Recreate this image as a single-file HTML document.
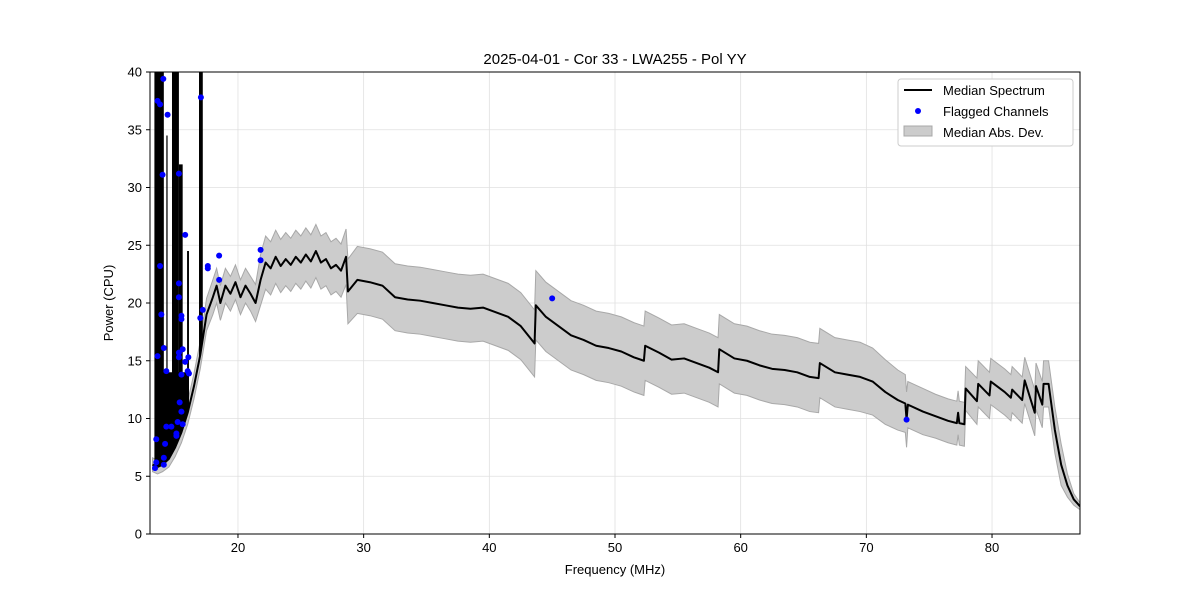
<!DOCTYPE html>
<html><head><meta charset="utf-8"><style>
html,body{margin:0;padding:0;background:#fff}
svg{display:block;font-family:"Liberation Sans","DejaVu Sans",sans-serif}
</style></head><body>
<svg id="chart" width="1200" height="600" viewBox="0 0 1200 600"></svg>
<script>
const freqs=[13.2,13.6,14,14.5,15,15.5,16,16.5,17,17.5,18,18.3,18.6,19,19.4,19.8,20.2,20.6,21,21.4,21.8,22.2,22.6,23,23.4,23.8,24.2,24.6,25,25.4,25.8,26.2,26.6,27,27.4,27.8,28.2,28.6,28.75,29.5,30.5,31.5,32.5,33.5,34.5,35.5,36.5,37.5,38.5,39.5,40.5,41.5,42.5,43.6,43.7,44.5,45.5,46.5,47.5,48.5,49.5,50.5,51.5,52.3,52.4,53.5,54.5,55.5,56.5,57.5,58.2,58.3,59.5,60.5,61.5,62.5,63.5,64.5,65.5,66.2,66.3,67.5,68.5,69.5,70.5,71.5,72.5,73.1,73.2,73.3,74.5,75.5,76.5,77.2,77.3,77.4,77.8,77.9,78.8,78.9,79.8,79.9,81,81.5,81.6,82.4,82.6,83.4,83.5,84,84.1,84.5,85,85.5,86,86.5,87];
const medians=[6,5.8,6,6.5,7.5,8.8,10.5,12.8,15.5,19,20.5,21.5,20,21.5,20.8,21.8,20.5,21.5,20.8,20,22,23.5,23,24,23.2,23.8,23.3,24,23.5,24.2,23.6,24.5,23.5,23.8,23,23.3,22.8,24,21,22,21.8,21.5,20.5,20.3,20.2,20,19.8,19.6,19.5,19.6,19.2,18.8,18,16.5,19.8,18.8,18,17.2,16.8,16.3,16.1,15.8,15.3,15,16.3,15.7,15.1,15.2,14.8,14.4,14,16,15.2,15,14.6,14.3,14.2,14,13.6,13.5,14.8,14,13.8,13.6,13.2,12.3,11.6,11.3,9.9,11.2,10.6,10.2,9.8,9.6,10.5,9.6,9.5,12.6,11.5,13,12,13.2,12.3,11.8,12.5,11.6,13.3,10.5,12.8,11.2,13,13,9,6,4.2,3,2.4];
const mads=[0.6,0.6,0.6,0.7,0.8,0.9,1,1.1,1.2,1.4,1.5,1.5,1.5,1.5,1.5,1.5,1.5,1.5,1.5,1.6,2.2,2.3,2.3,2.3,2.3,2.3,2.3,2.3,2.3,2.3,2.3,2.3,2.3,2.3,2.3,2.3,2.3,2.4,2.8,2.9,2.9,2.9,2.9,2.9,2.9,2.9,2.9,2.9,2.9,2.9,2.9,2.9,2.9,2.9,3,3,3,3,3,3,3,3,3,3,3,3,3,3,3,3,3,3,3,3,3,3,3,3,3,3,3,3,3,3,2.9,2.8,2.6,2.5,2.4,2,2,1.9,1.9,1.9,1.9,1.9,1.9,1.9,2,2,2,2,2,2,2,2,2,2,2,2,2,2,2,1.8,1,0.5,0.3,0.3,0.3];
const spikeStart=[13.4,13.35,14.3,14.75,15.3,15.95,16.9];
const spikeEnd=[16.1,14.1,14.4,15.3,15.6,16.1,17.2];
const spikeTop=[14,40,34.5,40,32,24.5,40];
const flagF=[13.4,13.5,13.5,13.6,13.6,13.8,13.8,13.9,14.0,14.06,14.1,14.1,14.1,14.2,14.3,14.3,14.4,14.7,15.1,15.1,15.2,15.3,15.3,15.3,15.3,15.3,15.36,15.5,15.5,15.5,15.5,15.6,15.6,15.8,15.8,16.0,16.05,16.1,17.0,17.05,17.2,17.6,17.6,18.5,18.5,21.8,21.8,45.0,73.2];
const flagV=[5.7,6.2,8.2,15.4,37.5,37.2,23.2,19.0,31.1,39.4,6.0,6.6,16.1,7.8,14.1,9.3,36.3,9.3,8.5,8.7,9.7,31.2,21.7,20.5,15.7,15.3,11.4,10.6,18.6,13.8,18.9,9.5,16.0,14.9,25.9,14.1,15.3,13.9,18.7,37.8,19.4,23.0,23.2,22.0,24.1,23.7,24.6,20.4,9.9];
const xTicks=[20,30,40,50,60,70,80];
const yTicks=[0,5,10,15,20,25,30,35,40];

const L=150,R=1080,T=72,B=534,X0=13,X1=87,Y0=0,Y1=40;
const sx=f=>L+(f-X0)/(X1-X0)*(R-L);
const sy=v=>B-(v-Y0)/(Y1-Y0)*(B-T);
function medAt(f){for(let i=1;i<freqs.length;i++){if(f<=freqs[i]){const t=(f-freqs[i-1])/(freqs[i]-freqs[i-1]);return medians[i-1]+t*(medians[i]-medians[i-1]);}}return medians[medians.length-1];}
const NS="http://www.w3.org/2000/svg";
const svg=document.getElementById('chart');
function mk(tag,attrs,parent){const e=document.createElementNS(NS,tag);for(const k in attrs)e.setAttribute(k,attrs[k]);(parent||svg).appendChild(e);return e;}

const defs=mk('defs',{});
const cp=mk('clipPath',{id:'clip'},defs);
mk('rect',{x:L,y:T,width:R-L,height:B-T},cp);

yTicks.forEach(v=>{const g=mk('line',{x1:L,x2:R,y1:sy(v),y2:sy(v),stroke:'#e0e0e0','stroke-width':0.8});

});
xTicks.forEach(v=>{const g=mk('line',{x1:sx(v),x2:sx(v),y1:T,y2:B,stroke:'#e0e0e0','stroke-width':0.8});

});

const plot=mk('g',{'clip-path':'url(#clip)'});



let up=freqs.map((f,i)=>sx(f)+','+sy(medians[i]+mads[i]));
let dn=freqs.map((f,i)=>sx(f)+','+sy(medians[i]-mads[i])).reverse();
const band=mk('polygon',{points:up.concat(dn).join(' '),fill:'#cccccc',stroke:'#a8a8a8','stroke-width':1},plot);



spikeStart.forEach((s,i)=>{
 const e=spikeEnd[i];const pts=[sx(s)+','+sy(spikeTop[i]),sx(e)+','+sy(spikeTop[i])];
 for(let k=10;k>=0;k--){const f=s+(e-s)*k/10;pts.push(sx(f)+','+sy(medAt(f)));}
 const r=mk('polygon',{points:pts.join(' '),fill:'#000'},plot);
 
 
});

const line=mk('polyline',{points:freqs.map((f,i)=>sx(f)+','+sy(medians[i])).join(' '),fill:'none',stroke:'#000','stroke-width':2,'stroke-linejoin':'round'},plot);



flagF.forEach((f,i)=>{
 const c=mk('circle',{cx:sx(f),cy:sy(flagV[i]),r:3,fill:'#0000ff'},plot);
 
 
});

const fr=mk('rect',{x:L,y:T,width:R-L,height:B-T,fill:'none',stroke:'#000','stroke-width':1});



xTicks.forEach(v=>{
 mk('line',{x1:sx(v),x2:sx(v),y1:B,y2:B+4,stroke:'#000'});
 const t=mk('text',{x:sx(v),y:B+18,'text-anchor':'middle','font-size':13});t.textContent=v;
 
 
});
yTicks.forEach(v=>{
 mk('line',{x1:L-4,x2:L,y1:sy(v),y2:sy(v),stroke:'#000'});
 const t=mk('text',{x:L-8,y:sy(v)+4.5,'text-anchor':'end','font-size':13});t.textContent=v;
 
 
});

const title=mk('text',{x:615,y:64,'text-anchor':'middle','font-size':15});title.textContent='2025-04-01 - Cor 33 - LWA255 - Pol YY';


const xl=mk('text',{x:615,y:574,'text-anchor':'middle','font-size':13});xl.textContent='Frequency (MHz)';


const yl=mk('text',{x:113,y:303,'text-anchor':'middle','font-size':13,transform:'rotate(-90 113 303)'});yl.textContent='Power (CPU)';


const lg=mk('g',{});


mk('rect',{x:898,y:79,width:175,height:67,rx:3,fill:'#fff',stroke:'#ccc'},lg);
mk('line',{x1:904,x2:932,y1:90,y2:90,stroke:'#000','stroke-width':2},lg);
mk('circle',{cx:918,cy:111,r:3,fill:'#0000ff'},lg);
mk('rect',{x:904,y:126,width:28,height:10,fill:'#cccccc',stroke:'#a8a8a8'},lg);
[['Median Spectrum',95],['Flagged Channels',116],['Median Abs. Dev.',137]].forEach(a=>{
 const t=mk('text',{x:943,y:a[1],'font-size':13},lg);t.textContent=a[0];
 
 
});
</script>
</body></html>
